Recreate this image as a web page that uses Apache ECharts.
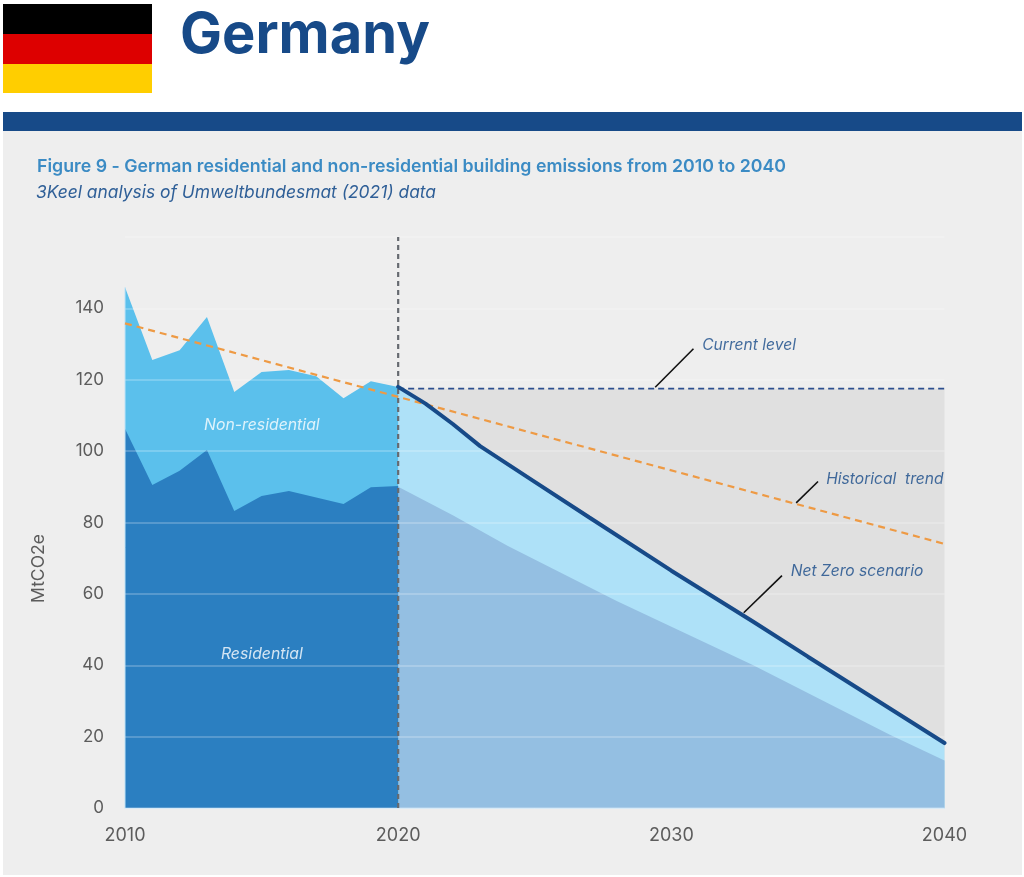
<!DOCTYPE html>
<html>
<head>
<meta charset="utf-8">
<title>German building emissions 2010-2040</title>
<script src="https://cdn.jsdelivr.net/npm/echarts@6/dist/echarts.min.js"></script>
<style>
  html, body { margin: 0; padding: 0; background: #ffffff; }
  #chart { width: 1024px; height: 877px; }
</style>
</head>
<body>
<div id="chart"></div>
<script>
// Emissions in MtCO2e, as [year, value]
const historicYears = [2010, 2011, 2012, 2013, 2014, 2015, 2016, 2017, 2018, 2019, 2020];
const historicTotal = [145.9, 125.5, 128.3, 137.6, 116.6, 122.2, 122.7, 121, 114.8, 119.6, 118];
const historicResidential = [106.3, 90.5, 94.5, 100.3, 83.2, 87.4, 88.8, 87, 85.2, 89.9, 90.2];

const netZeroYears = [2020, 2021, 2022, 2023, 2025, 2027, 2030, 2033, 2035, 2040];
const netZeroTotal = [118, 113.3, 107.6, 101.4, 91.4, 81.4, 66.5, 52.2, 42.4, 18.2];

const residentialYears = [2020, 2022, 2024, 2028, 2033, 2038, 2040];
const residentialForecast = [90, 82, 73.5, 58, 40, 20.5, 13.3];

const currentLevelYears = [2020, 2040];
const currentLevel = [117.5, 117.5];

const trendYears = [2010, 2040];
const trendValues = [135.8, 74];

const yTicks = [0, 20, 40, 60, 80, 100, 120, 140, 160];
const yHiddenTicks = [160];

// Leader lines from each annotation to the line it names
const currentLeader = [[2029.41, 117.9], [2030.81, 128.7]];
const trendLeader = [[2034.57, 85.5], [2035.37, 91.5]];
const netZeroLeader = [[2032.65, 54.7], [2034.05, 65.1]];

// Text anchored in data space: [year, value, text]
const areaLabels = [
  [2015.01, 107.3, 'Non-residential'],
  [2015.01, 43.2, 'Residential']
];
const noteLabels = [
  [2031.13, 129.6, 'Current level'],
  [2035.67, 92.2, 'Historical  trend'],
  [2034.37, 66.2, 'Net Zero scenario']
];

const FONT = 'Inter';
const NAVY = '#174a88';

const zip = (xs, ys) => xs.map((x, i) => [x, ys[i]]);

function area(name, xs, ys, color) {
  return {
    name, type: 'line', z: 1, silent: true, symbol: 'none',
    data: zip(xs, ys),
    lineStyle: { width: 0 },
    areaStyle: { color, opacity: 1 }
  };
}

function stroke(name, data, color, width, dash, z, cap) {
  return {
    name, type: 'line', z, silent: true, symbol: 'none', clip: false,
    data,
    lineStyle: { color, width, type: dash || 'solid', cap: cap || 'butt' }
  };
}

function textSeries(name, data, color, size, align) {
  return {
    name, type: 'scatter', z: 6, silent: true, symbolSize: 0,
    data,
    label: {
      show: true, position: 'inside', align, verticalAlign: 'middle',
      formatter: p => p.value[2],
      color, fontFamily: FONT, fontStyle: 'italic', fontSize: size
    }
  };
}

const chart = echarts.init(document.getElementById('chart'), null, { renderer: 'canvas' });

chart.setOption({
  animation: false,
  backgroundColor: '#ffffff',
  graphic: [
    { type: 'rect', z: -5, shape: { x: 3, y: 131, width: 1019, height: 744 }, style: { fill: '#eeeeee' } },
    { type: 'rect', z: -4, shape: { x: 3, y: 112, width: 1019, height: 19 }, style: { fill: NAVY } },
    { type: 'rect', z: -4, shape: { x: 3, y: 4, width: 149, height: 30 }, style: { fill: '#000000' } },
    { type: 'rect', z: -4, shape: { x: 3, y: 34, width: 149, height: 30 }, style: { fill: '#dd0000' } },
    { type: 'rect', z: -4, shape: { x: 3, y: 64, width: 149, height: 29 }, style: { fill: '#ffce00' } },
    { type: 'text', x: 180, y: 8, style: { text: 'Germany', fill: NAVY, font: '700 56px ' + FONT } },
    { type: 'text', x: 37, y: 158, style: { text: 'Figure 9 - German residential and non-residential building emissions from 2010 to 2040', fill: '#3b8bc4', font: '600 17.75px ' + FONT } },
    { type: 'text', x: 36, y: 184, style: { text: '3Keel analysis of Umweltbundesmat (2021) data', fill: '#2f5f97', font: 'italic 400 17.4px ' + FONT } }
  ],
  grid: { left: 125, right: 79.5, top: 237, bottom: 69, containLabel: false },
  xAxis: {
    type: 'value', min: 2010, max: 2040, interval: 10,
    axisLine: { show: true, onZero: false, lineStyle: { color: '#cfe6f5', width: 1 } },
    axisTick: { show: false },
    splitLine: { show: false },
    axisLabel: { color: '#5c5c5c', fontFamily: FONT, fontSize: 18, margin: 19, formatter: v => String(v) }
  },
  yAxis: {
    type: 'value', min: 0, max: 160, interval: 20, z: 2,
    name: 'MtCO2e', nameLocation: 'middle', nameGap: 77, nameRotate: 90,
    nameTextStyle: { color: '#5c5c5c', fontFamily: FONT, fontSize: 17.5, padding: [0, 92, 0, 0] },
    axisLine: { show: false },
    axisTick: { show: false },
    splitLine: { show: true, lineStyle: { color: 'rgba(255,255,255,0.28)', width: 1.5 } },
    axisLabel: {
      color: '#5c5c5c', fontFamily: FONT, fontSize: 17, margin: 21, padding: [0, 0, 2, 0],
      formatter: v => (yTicks.includes(v) && !yHiddenTicks.includes(v)) ? String(v) : ''
    }
  },
  series: [
    area('Current level band', currentLevelYears, currentLevel, '#e0e0e0'),
    area('Net Zero band', netZeroYears, netZeroTotal, '#aee1f8'),
    area('Residential forecast', residentialYears, residentialForecast, '#94bfe2'),
    area('Non-residential', historicYears, historicTotal, '#5bc0ec'),
    area('Residential', historicYears, historicResidential, '#2b7fc1'),
    stroke('Left edge', [[2010, 0], [2010, historicTotal[0]]], '#bfe3f7', 1, 'solid', 2),
    stroke('2020 marker', [[2020, 0], [2020, 160]], '#666a70', 2.2, [5, 4], 3),
    stroke('Current level', zip(currentLevelYears, currentLevel), '#2c4f8f', 1.6, [6, 4], 3),
    stroke('Historical trend', zip(trendYears, trendValues), '#ee9a44', 2.2, [7, 5], 4),
    stroke('Net Zero scenario', zip(netZeroYears, netZeroTotal), NAVY, 4, 'solid', 5, 'round'),
    stroke('Current level leader', currentLeader, '#111111', 1.6, 'solid', 3),
    stroke('Trend leader', trendLeader, '#111111', 1.6, 'solid', 3),
    stroke('Net Zero leader', netZeroLeader, '#111111', 1.6, 'solid', 3),
    textSeries('Area labels', areaLabels, '#ffffff', 15.8, 'center'),
    textSeries('Notes', noteLabels, NAVY, 15.6, 'left')
  ]
});
</script>
</body>
</html>
